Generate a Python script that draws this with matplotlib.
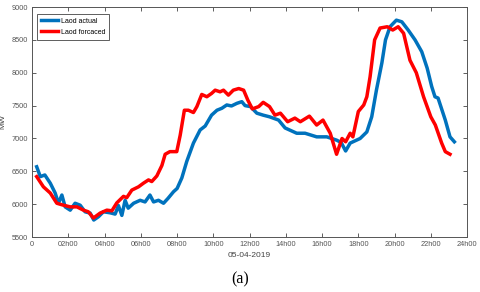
import matplotlib
matplotlib.use("Agg")
import matplotlib.pyplot as plt

# values (hour of day, MW)
actual_h = [0.25, 0.45, 0.7, 1.0, 1.27, 1.45, 1.64, 1.82, 2.1, 2.37, 2.65, 2.92, 3.2, 3.4,
            3.66, 3.93, 4.3, 4.58, 4.76, 4.95, 5.13, 5.3, 5.6, 5.96, 6.23, 6.5, 6.7, 6.97,
            7.25, 7.5, 7.8, 8.0, 8.26, 8.53, 8.9, 9.27, 9.55, 9.9, 10.2, 10.47, 10.74, 11.0,
            11.3, 11.57, 11.75, 12.05, 12.4, 12.75, 13.1, 13.6, 13.96, 14.6, 15.06, 15.7,
            16.26, 16.8, 17.05, 17.3, 17.55, 18.1, 18.47, 18.74, 19.0, 19.3, 19.5, 19.75,
            20.1, 20.4, 20.75, 21.13, 21.5, 21.8, 22.05, 22.23, 22.4, 22.8, 23.06, 23.3]
actual_mw = [6570, 6420, 6445, 6320, 6170, 6015, 6140, 5960, 5910, 6015, 5985, 5885, 5865, 5760,
             5810, 5885, 5870, 5850, 5980, 5830, 6060, 5940, 6015, 6060, 6035, 6140, 6035, 6060,
             6015, 6090, 6190, 6240, 6400, 6650, 6930, 7130, 7190, 7355, 7430, 7460, 7510, 7495,
             7535, 7560, 7500, 7485, 7385, 7355, 7330, 7280, 7160, 7080, 7080, 7025,
             7025, 6975, 6940, 6810, 6930, 7000, 7100, 7330, 7737, 8150, 8500, 8700,
             8800, 8775, 8650, 8500, 8320, 8070, 7790, 7635, 7615, 7280, 7025, 6950]

forecast_h = [0.25, 0.62, 1.0, 1.36, 1.73, 2.1, 2.47, 2.83, 3.1, 3.38, 3.75, 4.12, 4.4, 4.67,
              5.04, 5.22, 5.5, 5.87, 6.14, 6.42, 6.6, 6.88, 7.16, 7.34, 7.6, 7.98, 8.17, 8.4,
              8.62, 8.9, 9.09, 9.36, 9.64, 9.9, 10.1, 10.37, 10.56, 10.83, 11.1, 11.4, 11.67,
              11.9, 12.15, 12.5, 12.75, 13.1, 13.4, 13.7, 14.1, 14.5, 14.8, 15.3, 15.7, 16.05,
              16.45, 16.8, 17.1, 17.3, 17.55, 17.7, 18.0, 18.3, 18.47, 18.65, 18.9, 19.2, 19.6,
              19.9, 20.2, 20.5, 20.85, 21.2, 21.6, 22.0, 22.25, 22.6, 22.8, 23.06]
forecast_mw = [6420, 6265, 6170, 6015, 5985, 5960, 5960, 5910, 5885, 5790, 5865, 5910, 5900, 6020,
               6120, 6100, 6215, 6265, 6320, 6370, 6345, 6430, 6590, 6760, 6800, 6800, 7050, 7430,
               7430, 7395, 7485, 7670, 7635, 7685, 7735, 7710, 7735, 7660, 7735, 7760, 7735,
               7585, 7450, 7485, 7550, 7485, 7355, 7385, 7255, 7310, 7255, 7340, 7205, 7280,
               7080, 6760, 7000, 6950, 7080, 7025, 7410, 7510, 7635, 7940, 8500, 8680, 8700,
               8650, 8700, 8600, 8190, 8000, 7635, 7330, 7205, 6930, 6800, 6760]

xticks = list(range(0, 25, 2))
xlabels = ["0"] + ["%02dh00" % h for h in xticks[1:]]
yticks = list(range(5500, 9001, 500))

plt.rcParams["font.family"] = ["Liberation Sans", "DejaVu Sans"]

fig = plt.figure(figsize=(4.8, 2.92), dpi=100)
ax = fig.add_axes([0.067, 0.188, 0.906, 0.788])

ax.plot(actual_h, actual_mw, color="#0072BD", lw=2.5, label="Laod actual")
ax.plot(forecast_h, forecast_mw, color="#FF0000", lw=2.5, label="Laod forcaced")

ax.set_xlim(0, 24)
ax.set_ylim(5500, 9000)
ax.set_xticks(xticks)
ax.set_xticklabels(xlabels)
ax.set_yticks(yticks)
ax.tick_params(direction="in", length=3, width=0.6, labelsize=5.3, labelcolor="#555555",
               color="#444444", top=True, right=True, pad=3)
for s in ax.spines.values():
    s.set_linewidth(0.7)
    s.set_color("#555555")

ax.set_xlabel("05-04-2019", fontsize=6, color="#444444", labelpad=3)
ax.set_ylabel("MW", fontsize=6, color="#444444", labelpad=4)

leg = ax.legend(loc="upper left", fontsize=5, handlelength=2.4, handletextpad=0.4,
                borderpad=0.55, labelspacing=0.6, fancybox=False, framealpha=1,
                bbox_to_anchor=(0.004, 0.985))
leg.get_frame().set_edgecolor("#444444")
leg.get_frame().set_linewidth(0.6)

fig.text(0.5, 0.015, "(a)", ha="center", va="bottom", fontsize=11.5, family="Liberation Serif")

fig.savefig("out.png", dpi=100)
